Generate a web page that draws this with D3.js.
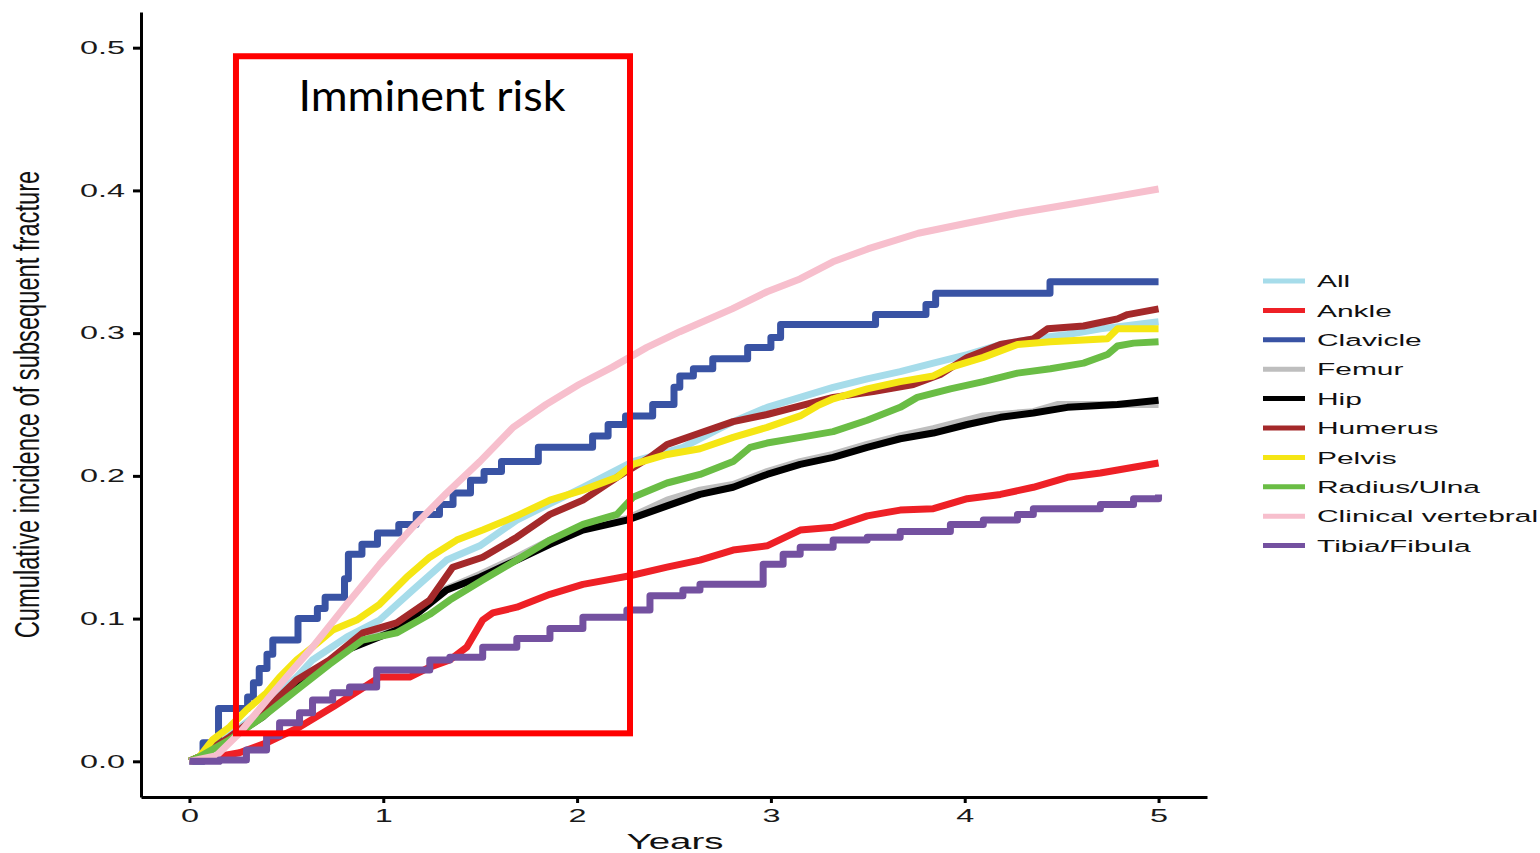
<!DOCTYPE html>
<html>
<head>
<meta charset="utf-8">
<script src="https://cdn.jsdelivr.net/npm/d3@7"></script>
<style>
  body { margin: 0; background: #fff; }
  svg { display: block; }
</style>
</head>
<body>
<div class="main"></div>
<script>
const width = 1540;
const height = 853;
const margin = ({top: 12, right: 333, bottom: 56, left: 141});

// axis ticks
const years = [0, 1, 2, 3, 4, 5];
const incidenceTicks = [0, 0.1, 0.2, 0.3, 0.4, 0.5];

// legend order = drawing order
const sites = ['All', 'Ankle', 'Clavicle', 'Femur', 'Hip', 'Humerus', 'Pelvis', 'Radius/Ulna', 'Clinical vertebral', 'Tibia/Fibula'];
const siteColors = ['#a6dcea', '#ee2026', '#3953a4', '#bebebe', '#000000', '#a4292a', '#f5e614', '#6abd45', '#f7bfcd', '#7451a0'];
const steppedSites = ['Clavicle', 'Tibia/Fibula'];

// [years, cumulative incidence]
const allData = [[0,0],[0.05,0.003],[0.207,0.018],[0.377,0.036],[0.553,0.059],[0.635,0.071],[0.811,0.087],[0.981,0.099],[1.152,0.120],[1.327,0.141],[1.498,0.151],[1.689,0.169],[2.03,0.192],[2.288,0.210],[2.546,0.220],[2.805,0.238],[2.98,0.248],[3.151,0.255],[3.321,0.262],[3.497,0.268],[3.667,0.273],[3.838,0.279],[4.013,0.285],[4.184,0.292],[4.354,0.296],[4.53,0.299],[4.70,0.303],[5.0,0.308]];
const ankleData = [[0,0],[0.05,0.001],[0.258,0.006],[0.398,0.013],[0.568,0.024],[0.739,0.038],[0.878,0.050],[0.981,0.059],[1.136,0.059],[1.24,0.066],[1.343,0.071],[1.431,0.080],[1.513,0.099],[1.565,0.104],[1.689,0.108],[1.86,0.117],[2.03,0.124],[2.273,0.130],[2.464,0.136],[2.634,0.141],[2.805,0.148],[2.98,0.151],[3.151,0.162],[3.321,0.164],[3.497,0.172],[3.667,0.176],[3.838,0.177],[4.013,0.184],[4.184,0.187],[4.354,0.192],[4.53,0.199],[4.70,0.202],[4.871,0.206],[5.0,0.209]];
const clavicleData = [[0,0],[0.07,0.013],[0.15,0.037],[0.30,0.045],[0.33,0.055],[0.36,0.065],[0.40,0.075],[0.43,0.085],[0.56,0.100],[0.66,0.107],[0.70,0.115],[0.80,0.128],[0.82,0.145],[0.89,0.152],[0.97,0.160],[1.08,0.166],[1.17,0.173],[1.29,0.180],[1.36,0.188],[1.45,0.197],[1.52,0.203],[1.61,0.210],[1.80,0.220],[2.08,0.228],[2.16,0.236],[2.25,0.242],[2.39,0.250],[2.50,0.262],[2.53,0.270],[2.60,0.275],[2.70,0.282],[2.88,0.290],[3.00,0.297],[3.05,0.306],[3.54,0.313],[3.80,0.320],[3.85,0.328],[4.44,0.336],[5.0,0.336]];
const femurData = [[0,0],[0.05,0.003],[0.207,0.016],[0.377,0.032],[0.553,0.055],[0.811,0.079],[1.069,0.095],[1.327,0.121],[1.498,0.131],[1.689,0.143],[1.86,0.155],[2.03,0.164],[2.257,0.170],[2.464,0.183],[2.634,0.190],[2.805,0.194],[2.98,0.203],[3.151,0.210],[3.321,0.215],[3.497,0.222],[3.667,0.228],[3.838,0.233],[4.096,0.242],[4.354,0.245],[4.478,0.250],[5.0,0.250]];
const hipData = [[0,0],[0.05,0.003],[0.207,0.016],[0.377,0.031],[0.553,0.053],[0.811,0.078],[1.069,0.092],[1.327,0.120],[1.498,0.129],[1.689,0.141],[1.86,0.152],[2.03,0.162],[2.257,0.169],[2.464,0.179],[2.634,0.187],[2.805,0.192],[2.98,0.201],[3.151,0.208],[3.321,0.213],[3.497,0.220],[3.667,0.226],[3.838,0.230],[4.013,0.236],[4.184,0.241],[4.354,0.244],[4.53,0.248],[4.788,0.250],[5.0,0.253]];
const humerusData = [[0,0],[0.05,0.003],[0.207,0.017],[0.377,0.034],[0.553,0.057],[0.723,0.071],[0.894,0.090],[1.069,0.097],[1.24,0.113],[1.358,0.136],[1.513,0.143],[1.689,0.157],[1.86,0.173],[2.03,0.183],[2.206,0.199],[2.376,0.213],[2.464,0.222],[2.634,0.230],[2.805,0.238],[2.98,0.243],[3.151,0.249],[3.321,0.255],[3.528,0.259],[3.735,0.264],[3.874,0.271],[4.013,0.283],[4.184,0.292],[4.354,0.296],[4.427,0.303],[4.613,0.305],[4.788,0.310],[4.84,0.313],[5.0,0.317]];
const pelvisData = [[0,0],[0.05,0.003],[0.119,0.015],[0.207,0.024],[0.294,0.036],[0.398,0.048],[0.465,0.059],[0.553,0.071],[0.635,0.080],[0.739,0.092],[0.863,0.099],[0.981,0.110],[1.121,0.129],[1.24,0.143],[1.379,0.155],[1.513,0.162],[1.689,0.172],[1.86,0.183],[2.03,0.190],[2.206,0.199],[2.288,0.208],[2.464,0.215],[2.634,0.219],[2.805,0.227],[2.98,0.234],[3.151,0.242],[3.239,0.249],[3.321,0.254],[3.497,0.261],[3.667,0.266],[3.838,0.270],[3.926,0.276],[4.096,0.283],[4.272,0.292],[4.442,0.294],[4.736,0.296],[4.788,0.303],[5.0,0.303]];
const radiusData = [[0,0],[0.05,0.003],[0.207,0.015],[0.377,0.031],[0.553,0.050],[0.723,0.068],[0.894,0.085],[1.069,0.090],[1.24,0.103],[1.343,0.113],[1.513,0.127],[1.689,0.141],[1.86,0.155],[2.03,0.166],[2.206,0.173],[2.288,0.185],[2.464,0.195],[2.634,0.201],[2.805,0.210],[2.893,0.220],[2.98,0.223],[3.151,0.227],[3.321,0.231],[3.497,0.239],[3.667,0.248],[3.755,0.255],[3.926,0.261],[4.096,0.266],[4.272,0.272],[4.442,0.275],[4.613,0.279],[4.736,0.285],[4.788,0.291],[4.871,0.293],[5.0,0.294]];
const vertebralData = [[0,0],[0.14,0.004],[0.26,0.020],[0.40,0.043],[0.52,0.062],[0.635,0.080],[0.811,0.110],[0.981,0.138],[1.152,0.164],[1.327,0.188],[1.498,0.210],[1.67,0.234],[1.84,0.250],[2.01,0.264],[2.18,0.276],[2.36,0.290],[2.53,0.301],[2.80,0.317],[2.98,0.329],[3.15,0.338],[3.32,0.350],[3.50,0.359],[3.76,0.370],[4.01,0.377],[4.27,0.384],[4.53,0.390],[4.79,0.396],[5.0,0.401]];
const tibiaData = [[0,0],[0.155,0.001],[0.294,0.008],[0.398,0.018],[0.465,0.027],[0.568,0.034],[0.635,0.043],[0.739,0.048],[0.826,0.052],[0.966,0.064],[1.24,0.071],[1.343,0.073],[1.513,0.080],[1.689,0.086],[1.86,0.093],[2.03,0.101],[2.257,0.106],[2.376,0.116],[2.546,0.120],[2.634,0.124],[2.96,0.138],[3.063,0.145],[3.151,0.150],[3.321,0.155],[3.497,0.157],[3.667,0.161],[3.926,0.166],[4.096,0.169],[4.272,0.173],[4.354,0.177],[4.70,0.180],[4.871,0.184],[5.0,0.187]];

const siteData = [allData, ankleData, clavicleData, femurData, hipData, humerusData, pelvisData, radiusData, vertebralData, tibiaData];

// "Imminent risk" box: [years from, years to], [incidence from, incidence to]
const imminentYears = [0.24, 2.273];
const imminentIncidence = [0.0196, 0.494];
const imminentLabel = 'Imminent risk';

const series = sites.map((s, i) => ({site: s, color: siteColors[i], values: siteData[i]}));

const svg = d3.select('.main')
  .append('svg')
  .attr('width', width)
  .attr('height', height)
  .style('background', '#fff');

// 5% expansion like ggplot
const x = d3.scaleLinear()
  .domain([-0.25, 5.25])
  .range([margin.left, width - margin.right]);

const y = d3.scaleLinear()
  .domain([-0.025, 0.525])
  .range([height - margin.bottom, margin.top]);

const stretch = 1.8;

// courbes
const line = d3.line()
  .x(d => x(d[0]))
  .y(d => y(d[1]));

svg.append('g')
  .selectAll('path')
  .data(series)
  .enter()
  .append('path')
  .attr('fill', 'none')
  .attr('stroke', d => d.color)
  .attr('stroke-width', 7)
  .attr('stroke-linejoin', 'round')
  .attr('d', d => line.curve(steppedSites.includes(d.site) ? d3.curveStepAfter : d3.curveLinear)(d.values));

// axe Y
const yAxis = svg.append('g')
  .attr('transform', `translate(${margin.left},0)`)
  .call(d3.axisLeft(y).tickValues(incidenceTicks).tickFormat(d3.format('.1f')).tickSize(8).tickSizeOuter(0).tickPadding(8));

yAxis.select('.domain').attr('stroke-width', 3);
yAxis.selectAll('.tick line').attr('stroke-width', 3);
yAxis.selectAll('.tick text')
  .attr('font-family', 'Liberation Sans, Arial, sans-serif')
  .attr('font-size', 18)
  .attr('fill', '#1a1a1a')
  .each(function() {
    const t = d3.select(this);
    t.attr('transform', `translate(${t.attr('x')},0) scale(${stretch},1)`).attr('x', 0);
  });

// axe X
const xAxis = svg.append('g')
  .attr('transform', `translate(0,${height - margin.bottom})`)
  .call(d3.axisBottom(x).tickValues(years).tickFormat(d3.format('d')).tickSize(6).tickSizeOuter(0).tickPadding(6));

xAxis.select('.domain').attr('stroke-width', 3);
xAxis.selectAll('.tick line').attr('stroke-width', 3);
xAxis.selectAll('.tick text')
  .attr('font-family', 'Liberation Sans, Arial, sans-serif')
  .attr('font-size', 18)
  .attr('fill', '#1a1a1a')
  .attr('transform', `scale(${stretch},1)`);

// titres des axes
svg.append('text')
  .attr('transform', `translate(${(x(0) + x(5)) / 2 + 1},${height - 4}) scale(1.75,1)`)
  .attr('text-anchor', 'middle')
  .attr('font-family', 'Liberation Sans, Arial, sans-serif')
  .attr('font-size', 22)
  .attr('fill', '#111')
  .text('Years');

svg.append('text')
  .attr('transform', `translate(39,${y(0.25)}) rotate(-90) scale(1,1.5)`)
  .attr('text-anchor', 'middle')
  .attr('font-family', 'Liberation Sans, Arial, sans-serif')
  .attr('font-size', 23.7)
  .attr('fill', '#111')
  .text('Cumulative incidence of subsequent fracture');

// légende
const legend = svg.append('g')
  .attr('transform', 'translate(1263,281)');

const item = legend.selectAll('g')
  .data(series)
  .enter()
  .append('g')
  .attr('transform', (d, i) => `translate(0,${i * 29.4})`);

item.append('line')
  .attr('x1', 0)
  .attr('x2', 42)
  .attr('stroke', d => d.color)
  .attr('stroke-width', 5);

item.append('text')
  .attr('transform', `translate(54,0) scale(1.76,1)`)
  .attr('dy', '0.36em')
  .attr('font-family', 'Liberation Sans, Arial, sans-serif')
  .attr('font-size', 17)
  .attr('fill', '#111')
  .text(d => d.site);

// cadre "Imminent risk"
svg.append('rect')
  .attr('x', x(imminentYears[0]))
  .attr('y', y(imminentIncidence[1]))
  .attr('width', x(imminentYears[1]) - x(imminentYears[0]))
  .attr('height', y(imminentIncidence[0]) - y(imminentIncidence[1]))
  .attr('fill', 'none')
  .attr('stroke', '#ff0000')
  .attr('stroke-width', 6);

svg.append('text')
  .attr('x', (x(imminentYears[0]) + x(imminentYears[1])) / 2 - 1)
  .attr('y', y(imminentIncidence[1]) + 55)
  .attr('text-anchor', 'middle')
  .attr('font-family', 'Lato, Open Sans, sans-serif')
  .attr('font-size', 42)
  .attr('textLength', 267)
  .attr('lengthAdjust', 'spacingAndGlyphs')
  .attr('fill', '#000')
  .text(imminentLabel);
</script>
</body>
</html>
